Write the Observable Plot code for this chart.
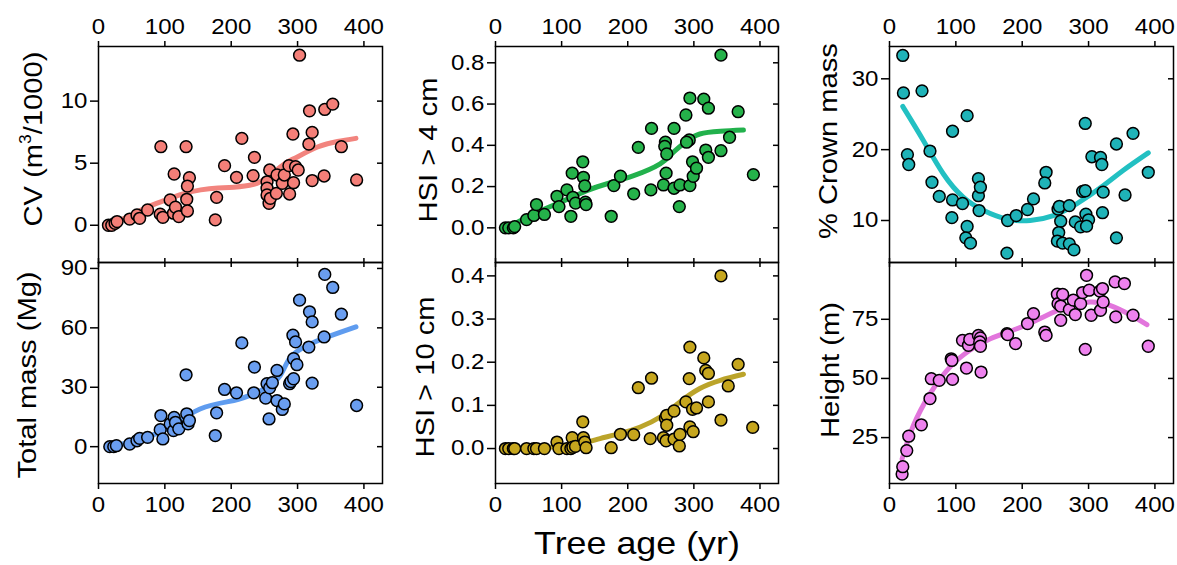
<!DOCTYPE html>
<html>
<head>
<meta charset="utf-8">
<script src="https://cdn.jsdelivr.net/npm/d3@7"></script>
<script src="https://cdn.jsdelivr.net/npm/@observablehq/plot@0.6"></script>
<style>
  html, body { margin: 0; padding: 0; background: #fff; }
  #fig { position: relative; width: 1177px; height: 565px; overflow: hidden;
         font-family: "Liberation Sans", Arial, Helvetica, sans-serif; color: #000; }
  #fig svg { position: absolute; overflow: visible; }
  .ytitle { position: absolute; white-space: nowrap; line-height: 1; font-size: 26px;
            transform: translate(-50%, -50%) rotate(-90deg) scaleX(1.12); }
  .xtitle { position: absolute; white-space: nowrap; line-height: 1; font-size: 32px;
            transform: translate(-50%, -50%) scaleX(1.12); }
</style>
</head>
<body>
<div id="fig"></div>
<script>
// Tree age axis shared by every panel
const ageTicks = [0, 100, 200, 300, 400];

// Crown volume (m3/1000)
const cvAge = [15,20,25,28,47,58,62,74,93,97,94,108,114,113,116,121,132,137,134,133,134,176,178,190,208,216,235,233,258,254,254,254,257,259,269,268,277,280,287,288,293,294,297,301,303,317,318,322,322,340,341,353,366,389];
const cvValue = [0,0,0.16,0.3,0.5,0.83,0.56,1.23,0.9,0.64,6.33,2.04,4.13,0.97,1.45,0.7,6.33,3.83,3.16,2.09,1.15,0.43,2.25,4.8,3.86,7.0,5.47,4.0,4.45,3.5,2.98,2.44,1.77,2.17,4.05,2.57,3.38,4.05,4.8,2.52,7.35,3.43,4.72,4.45,13.7,6.54,9.22,7.48,3.6,3.97,9.33,9.76,6.33,3.65];
const cvFitAge = [18,45,73,100,126,154,180,204,234,254,279,294,330,360,388];
const cvFit = [0.05,0.7,1.45,2.0,2.5,2.85,3.0,3.06,3.3,3.85,4.9,5.35,6.3,6.75,7.0];
const cvTicks = [0, 5, 10];

// Total mass (Mg)
const massAge = [17,23,27,47,58,62,74,93,94,97,108,113,114,116,121,132,133,135,137,176,178,190,208,216,235,234,252,254,258,262,257,269,269,277,280,288,290,293,294,294,297,299,303,317,318,322,322,340,341,353,366,389];
const massValue = [0,0,0.5,1.35,3.0,4.2,4.7,8.6,15.7,3.9,11.5,8.1,14.8,12.3,9.0,36.3,16.6,11.5,13.2,5.6,17.1,28.9,27.2,52.4,40.2,27.2,24.5,31.8,29.7,32.3,14.0,38.5,23.3,18.8,21.6,31.8,32.9,56.3,34.3,44.4,52.9,41.4,74.0,50.3,68.1,63.0,32.1,55.4,87.0,80.4,66.9,20.8];
const massFitAge = [18,50,78,103,153,204,234,254,274,289,314,345,388];
const massFit = [0,2.5,5.6,9.0,19.0,23.3,26.7,30.0,36.0,45.0,51.0,55.4,60.5];
const massTicks = [0, 30, 60, 90];

// HSI > 4 cm
const hsi4Age = [15,20,27,29,47,58,62,74,93,96,108,114,116,117,121,132,133,135,136,137,175,179,189,209,216,236,235,254,257,256,259,258,270,270,278,279,288,294,293,289,294,298,299,304,315,322,318,322,341,341,354,367,390];
const hsi4Value = [0,0,0,0.006,0.04,0.06,0.113,0.065,0.153,0.103,0.184,0.056,0.265,0.148,0.12,0.32,0.245,0.203,0.124,0.113,0.056,0.205,0.25,0.165,0.39,0.482,0.184,0.208,0.415,0.395,0.358,0.265,0.482,0.192,0.103,0.208,0.547,0.629,0.426,0.415,0.205,0.32,0.25,0.289,0.624,0.58,0.377,0.342,0.837,0.374,0.439,0.563,0.258];
const hsi4FitAge = [18,58,98,138,170,209,249,269,289,309,340,375];
const hsi4Fit = [0,0.068,0.124,0.18,0.215,0.253,0.31,0.366,0.42,0.455,0.468,0.474];
const hsi4Ticks = [0, 0.2, 0.4, 0.6, 0.8];

// HSI > 10 cm
const hsi10Age = [15,20,27,29,47,58,62,74,93,96,108,114,116,117,121,132,133,135,137,175,189,209,216,236,234,254,257,259,258,259,270,270,278,279,288,294,293,294,298,299,304,315,318,322,322,341,341,352,367,389];
const hsi10Value = [0,0,0,0,0,0,0,0,0.015,0,0,0,0.025,0.003,0.005,0.062,0.025,0.015,0.002,0.002,0.033,0.032,0.141,0.163,0.023,0.025,0.07,0.077,0.018,0.054,0.087,0.022,0.006,0.033,0.108,0.235,0.162,0.05,0.091,0.039,0.094,0.21,0.181,0.174,0.108,0.40,0.066,0.145,0.195,0.049];
const hsi10FitAge = [18,60,100,138,158,189,219,249,279,309,340,375];
const hsi10Fit = [0,0.001,0.005,0.015,0.023,0.035,0.05,0.073,0.108,0.139,0.158,0.172];
const hsi10Ticks = [0, 0.1, 0.2, 0.3, 0.4];

// % Crown mass
const crownAge = [20,21,27,29,49,61,64,75,95,95,94,110,117,117,115,122,134,134,137,135,177,178,191,208,217,236,234,254,256,258,255,253,261,271,271,278,280,288,291,295,295,296,300,297,305,318,320,322,321,342,342,355,367,390];
const crownValue = [33.3,28.0,19.3,17.9,28.3,19.8,15.4,13.4,22.6,12.9,10.4,12.4,24.8,9.15,7.55,6.8,15.9,13.5,14.7,11.4,5.4,10.0,10.7,11.55,13.05,16.8,15.3,11.6,12.0,9.9,8.3,7.1,6.8,12.1,6.7,5.85,9.8,9.1,14.1,14.2,23.7,10.9,10.1,9.2,19.0,18.9,17.9,14.0,11.1,20.8,7.55,13.6,22.3,16.8];
const crownFitAge = [20,51,81,111,142,177,212,247,282,322,352,390];
const crownFit = [26.1,21.3,16.6,13.3,11.4,10.2,10.0,10.7,12.35,14.9,17.06,19.55];
const crownTicks = [10, 20, 30];

// Height (m)
const heightAge = [19,20,26,29,48,61,63,75,93,94,95,110,116,119,121,134,137,136,137,138,177,178,190,208,217,234,236,253,254,258,258,261,271,277,280,288,291,295,297,301,304,317,321,318,322,341,340,354,367,390];
const heightValue = [9.6,12.7,19.5,25.6,30.4,41.5,49.9,49.2,58.3,57.6,49.6,66.1,54.4,64.0,66.5,68.2,67.1,65.4,63.6,52.7,68.9,68.5,64.7,73.2,77.4,69.6,68.2,85.6,81.6,80.6,74.6,85.5,79.1,83.1,77.0,81.6,86.3,62.3,93.6,87.3,76.7,86.9,88.0,78.8,82.3,76.0,90.8,90.1,76.7,63.6];
const heightFitAge = [19,36,61,91,121,152,192,232,267,302,332,362,388];
const heightFit = [16,30.1,43.5,54.8,61.9,66.8,71,76,80.2,82.3,80.9,77,72.7];
const heightTicks = [25, 50, 75];

const zip = (xs, ys) => xs.map((x, i) => ({age: x, value: ys[i]}));
const fig = document.getElementById("fig");
const FONT = "'Liberation Sans', Arial, Helvetica, sans-serif";
const STRETCH = 1.12; // the figure's lettering runs a little wider than plain Arial

function widenLabels(svg) {
  for (const t of svg.querySelectorAll('[aria-label$="tick label"] text')) {
    const x = parseFloat(t.getAttribute("x")) || 0;
    const tr = t.getAttribute("transform") || "";
    t.setAttribute("transform", `${tr} translate(${x},0) scale(${STRETCH},1) translate(${-x},0)`);
  }
}

function panel(o) {
  const top = o.row === 0;
  const mL = 70, mR = 20, mT = top ? 45 : 15, mB = top ? 15 : 45;
  const chart = Plot.plot({
    width: o.w + mL + mR,
    height: o.h + mT + mB,
    marginLeft: mL, marginRight: mR, marginTop: mT, marginBottom: mB,
    style: {background: "transparent", overflow: "visible", fontSize: "21.5px", fontFamily: FONT, color: "#000"},
    x: {domain: [0, 428]},
    y: {domain: o.yDomain},
    marks: [
      Plot.line(zip(o.fitAge, o.fit), {x: "age", y: "value", stroke: o.line, strokeWidth: 5, curve: "natural"}),
      Plot.dot(zip(o.age, o.value), {x: "age", y: "value", r: 5.9, fill: o.fill, stroke: "#000", strokeWidth: 1.5}),
      Plot.frame({stroke: "#000", strokeWidth: 1.5}),
      Plot.axisX(ageTicks, {anchor: top ? "top" : "bottom", tickSize: 6, tickPadding: 7, strokeWidth: 1.5, label: null}),
      Plot.axisX(ageTicks, {anchor: top ? "bottom" : "top", tickSize: 5, strokeWidth: 1.5, fill: "none", label: null}),
      Plot.axisY(o.yTicks, {anchor: "left", tickSize: 8, tickPadding: 3, strokeWidth: 1.5, label: null, tickFormat: o.fmt}),
      Plot.axisY(o.yTicks, {anchor: "right", tickSize: -6, strokeWidth: 1.5, fill: "none", label: null})
    ]
  });
  widenLabels(chart);
  chart.style.left = (o.x - mL) + "px";
  chart.style.top = (o.y - mT) + "px";
  fig.appendChild(chart);

  const t = document.createElement("div");
  t.className = "ytitle";
  t.innerHTML = o.title;
  t.style.left = o.tx + "px";
  t.style.top = o.ty + "px";
  fig.appendChild(t);
}

const one = d3.format(".1f");
const int = d3.format("d");

panel({row: 0, x: 98, y: 46, w: 284, h: 216, age: cvAge, value: cvValue, fitAge: cvFitAge, fit: cvFit,
       yDomain: [-3, 14.4], yTicks: cvTicks, fmt: int, fill: "#f47f78", line: "#f2847e",
       title: "CV (m<sup style='font-size:0.6em;vertical-align:0.7em;line-height:0'>3</sup>/1000)", tx: 33, ty: 139});
panel({row: 1, x: 98, y: 262, w: 284, h: 221, age: massAge, value: massValue, fitAge: massFitAge, fit: massFit,
       yDomain: [-18.6, 93], yTicks: massTicks, fmt: int, fill: "#6a9ef0", line: "#5f9cef",
       title: "Total mass (Mg)", tx: 27, ty: 375});
panel({row: 0, x: 495, y: 46, w: 283, h: 216, age: hsi4Age, value: hsi4Value, fitAge: hsi4FitAge, fit: hsi4Fit,
       yDomain: [-0.168, 0.879], yTicks: hsi4Ticks, fmt: one, fill: "#25b24a", line: "#22b14c",
       title: "HSI &gt; 4 cm", tx: 428, ty: 150});
panel({row: 1, x: 495, y: 262, w: 283, h: 221, age: hsi10Age, value: hsi10Value, fitAge: hsi10FitAge, fit: hsi10Fit,
       yDomain: [-0.081, 0.431], yTicks: hsi10Ticks, fmt: one, fill: "#c6a61e", line: "#bba42a",
       title: "HSI &gt; 10 cm", tx: 425, ty: 377});
panel({row: 0, x: 889, y: 46, w: 284, h: 216, age: crownAge, value: crownValue, fitAge: crownFitAge, fit: crownFit,
       yDomain: [4.07, 34.56], yTicks: crownTicks, fmt: int, fill: "#1fb3b8", line: "#22c0c2",
       title: "% Crown mass", tx: 828, ty: 141});
panel({row: 1, x: 889, y: 262, w: 284, h: 221, age: heightAge, value: heightValue, fitAge: heightFitAge, fit: heightFit,
       yDomain: [5.6, 99], yTicks: heightTicks, fmt: int, fill: "#ee82ee", line: "#e275dc",
       title: "Height (m)", tx: 830, ty: 370});

const xt = document.createElement("div");
xt.className = "xtitle";
xt.textContent = "Tree age (yr)";
xt.style.left = "637px";
xt.style.top = "543px";
fig.appendChild(xt);
</script>
</body>
</html>
